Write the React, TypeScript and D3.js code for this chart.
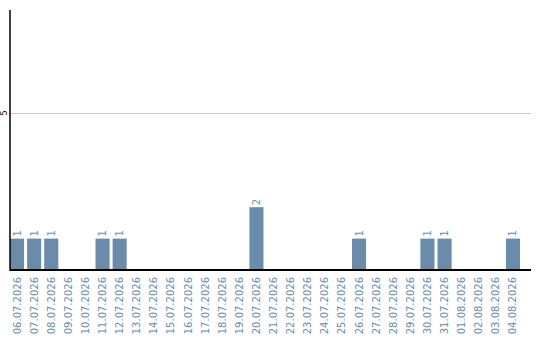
import React from "react";
import * as d3 from "d3";

const dates = [
  "06.07.2026", "07.07.2026", "08.07.2026", "09.07.2026", "10.07.2026",
  "11.07.2026", "12.07.2026", "13.07.2026", "14.07.2026", "15.07.2026",
  "16.07.2026", "17.07.2026", "18.07.2026", "19.07.2026", "20.07.2026",
  "21.07.2026", "22.07.2026", "23.07.2026", "24.07.2026", "25.07.2026",
  "26.07.2026", "27.07.2026", "28.07.2026", "29.07.2026", "30.07.2026",
  "31.07.2026", "01.08.2026", "02.08.2026", "03.08.2026", "04.08.2026",
];
const counts = [
  1, 1, 1, 0, 0,
  1, 1, 0, 0, 0,
  0, 0, 0, 0, 2,
  0, 0, 0, 0, 0,
  1, 0, 0, 0, 1,
  1, 0, 0, 0, 1,
];
const yTicks = [5];

const W = 540;
const H = 340;
const left = 10;
const baseY = 270;
const topY = 10;
const axisRight = 531;
const barColor = "#6a8caa";
const labelColor = "#6a8caa";
const font = "'DejaVu Sans', Verdana, sans-serif";

export default function App() {
  const x = d3
    .scaleBand<string>()
    .domain(dates)
    .range([left, left + dates.length * 17])
    .paddingInner(3 / 17)
    .paddingOuter(0)
    .align(0);
  const y = d3.scaleLinear().domain([0, 8.28]).range([baseY, topY]);

  return (
    <svg
      width={W}
      height={H}
      style={{ position: "absolute", left: 0, top: 0 }}
    >
      {yTicks.map((t) => (
        <g key={t}>
          <line
            x1={left}
            x2={axisRight}
            y1={Math.round(y(t)) + 0.5}
            y2={Math.round(y(t)) + 0.5}
            stroke="#c8c8c8"
            strokeWidth={1}
          />
          <text
            transform={`translate(7,${y(t)}) rotate(-90)`}
            textAnchor="middle"
            fontFamily={font}
            fontSize={8}
            fill="#000"
          >
            {t}
          </text>
        </g>
      ))}
      {dates.map((d, i) => {
        const v = counts[i];
        const bx = x(d)!;
        const cx = bx + x.bandwidth() / 2;
        return (
          <g key={d}>
            {v > 0 && (
              <>
                <rect
                  x={bx}
                  y={y(v)}
                  width={x.bandwidth()}
                  height={baseY - y(v)}
                  fill={barColor}
                />
                <text
                  transform={`translate(${cx + 3.5},${y(v) - 2}) rotate(-90)`}
                  textAnchor="start"
                  fontFamily={font}
                  fontSize={10}
                  fill={labelColor}
                >
                  {v}
                </text>
              </>
            )}
            <text
              transform={`translate(${cx + 3.5},${baseY + 7}) rotate(-90)`}
              textAnchor="end"
              fontFamily={font}
              fontSize={10}
              fill={labelColor}
            >
              {d}
            </text>
          </g>
        );
      })}
      <line x1={left} x2={left} y1={topY} y2={baseY + 1} stroke="#000" strokeWidth={1.5} />
      <line x1={left} x2={axisRight} y1={baseY} y2={baseY} stroke="#000" strokeWidth={2} />
    </svg>
  );
}
